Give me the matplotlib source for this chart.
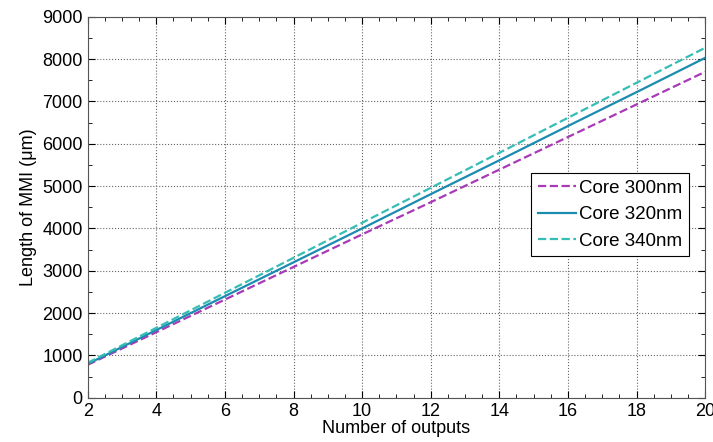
import numpy as np
import matplotlib.pyplot as plt
from matplotlib.ticker import MultipleLocator

plt.rcParams['font.family'] = ['Liberation Sans', 'DejaVu Sans']

# values
outputs = [2, 4, 6, 8, 10, 12, 14, 16, 18, 20]
core_300 = [780, 1550, 2320, 3090, 3860, 4620, 5390, 6160, 6930, 7700]
core_320 = [800, 1600, 2400, 3200, 4000, 4810, 5610, 6420, 7220, 8030]
core_340 = [826, 1653, 2480, 3307, 4134, 4960, 5787, 6614, 7441, 8268]

fig = plt.figure(figsize=(7.13, 4.42), dpi=100)
ax = fig.add_axes([0.123, 0.1, 0.866, 0.862])

ax.plot(outputs, core_300, '--', color='#A83AB8', lw=1.6, label='Core 300nm')
ax.plot(outputs, core_320, '-', color='#1B8BB0', lw=1.6, label='Core 320nm')
ax.plot(outputs, core_340, '--', color='#35BDB6', lw=1.6, label='Core 340nm')

ax.set_xlim(2, 20)
ax.set_ylim(0, 9000)
ax.xaxis.set_major_locator(MultipleLocator(2))
ax.xaxis.set_minor_locator(MultipleLocator(0.5))
ax.yaxis.set_major_locator(MultipleLocator(1000))
ax.yaxis.set_minor_locator(MultipleLocator(500))
ax.tick_params(which='both', direction='in', top=True, right=True, labelsize=13)
ax.tick_params(which='major', length=5)
ax.tick_params(which='minor', length=3)
ax.grid(True, which='major', linestyle=':', color='#666666', lw=0.8)

for s in ax.spines.values():
    s.set_color('#555555')

ax.set_xlabel('Number of outputs', fontsize=13, labelpad=0)
ax.set_ylabel('Length of MMI (\u03bcm)', fontsize=13, labelpad=4)

leg = ax.legend(loc='upper right', bbox_to_anchor=(0.974, 0.59), fontsize=13.5,
                fancybox=False, framealpha=1, edgecolor='black',
                handlelength=2.0, handletextpad=0.2, borderpad=0.35,
                labelspacing=0.5, borderaxespad=0)
leg.get_frame().set_linewidth(0.8)

fig.savefig('out.png', dpi=100)
